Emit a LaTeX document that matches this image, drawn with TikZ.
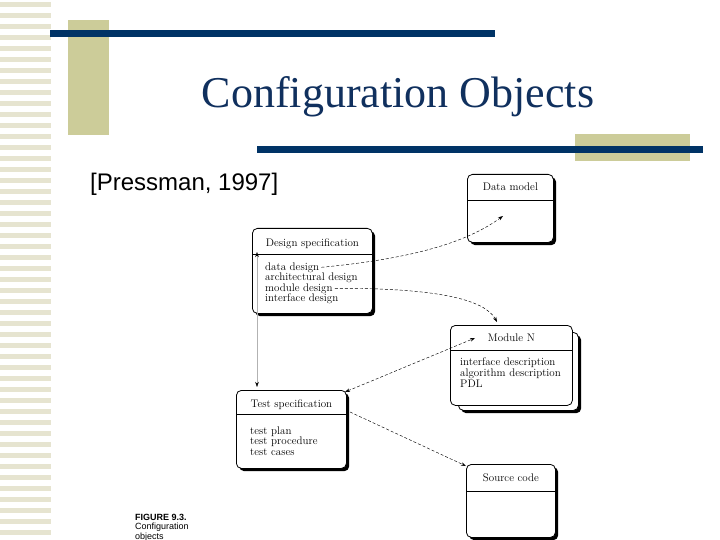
\documentclass[tikz,border=0pt]{standalone}
\usepackage{fontspec}
\newfontfamily\titlefont{Liberation Serif}
\newfontfamily\sansfont{Liberation Sans}
\usetikzlibrary{shadows,arrows.meta,calc}
\definecolor{navy}{RGB}{0,51,102}
\definecolor{titleblue}{RGB}{16,48,94}
\definecolor{khaki}{RGB}{204,204,153}
\definecolor{stripe}{RGB}{230,228,208}

\begin{document}
\begin{tikzpicture}[x=1pt, y=1pt,
    every node/.style={inner sep=2pt},
    >={Stealth[length=5pt,width=3.5pt]},
    objbox/.style={draw, line width=0.8pt, rounded corners=5pt, fill=white, anchor=north west,
        drop shadow={shadow xshift=2.8pt, shadow yshift=-2.8pt, fill=black, opacity=1}},
    plainbox/.style={draw, line width=0.8pt, rounded corners=5pt, fill=white, anchor=north west},
    divider/.style={line width=0.6pt},
    boxtitle/.style={anchor=base, font=\fontsize{11}{11}\selectfont},
    item/.style={anchor=base west, font=\fontsize{11}{11}\selectfont},
    link/.style={densely dashed, line width=0.45pt},
    guide/.style={gray!60, line width=0.4pt},
    ]
    \useasboundingbox (0,0) rectangle (720,-540);
    \fill[white] (0,0) rectangle (720,-540);
    \foreach \y in {2,13,...,535}
        \fill[stripe] (0,-\y) rectangle (51,-\y-5);
    \fill[khaki] (68,-20) rectangle (109,-135);
    \fill[khaki] (575,-134) rectangle (690,-161);
    \fill[navy] (50,-30) rectangle (495,-37);
    \fill[navy] (257,-146) rectangle (703,-153);
    \node (title) [anchor=base, text=titleblue, font=\titlefont\fontsize{44}{44}\selectfont] at (398,-108) {Configuration Objects};
    \node (source) [anchor=base west, font=\sansfont\fontsize{24}{24}\selectfont] at (88,-191) {[Pressman, 1997]};

    \node (dm) [objbox, minimum width=86pt, minimum height=68pt] at (467,-174) {};
    \draw [divider] ($(dm.north west)+(0,-26)$) -- ($(dm.north east)+(0,-26)$);
    \node (dmtitle) [boxtitle] at ($(dm.north)+(0,-17)$) {Data model};

    \node (ds) [objbox, minimum width=120pt, minimum height=85pt] at (252,-228) {};
    \draw [divider] ($(ds.north west)+(0,-26)$) -- ($(ds.north east)+(0,-26)$);
    \node (dstitle) [boxtitle] at ($(ds.north)+(0,-18)$) {Design specification};
    \node (ddesign) [item] at (263,-270) {data design};
    \node (adesign) [item] at (263,-280.5) {architectural design};
    \node (mdesign) [item] at (263,-291) {module design};
    \node (idesign) [item] at (263,-301.5) {interface design};

    \node (mnback) [objbox, minimum width=120pt, minimum height=78pt] at (458,-332) {};
    \node (mn) [plainbox, minimum width=122pt, minimum height=80pt] at (450,-325) {};
    \draw [divider] ($(mn.north west)+(0,-25)$) -- ($(mn.north east)+(0,-25)$);
    \node (mntitle) [boxtitle] at ($(mn.north)+(0,-16)$) {Module N};
    \node (idesc) [item] at (458,-365) {interface description};
    \node (adesc) [item] at (458,-376) {algorithm description};
    \node (pdl) [item] at (458,-387) {PDL};

    \node (ts) [objbox, minimum width=110pt, minimum height=78pt] at (236,-390) {};
    \draw [divider] ($(ts.north west)+(0,-24)$) -- ($(ts.north east)+(0,-24)$);
    \node (tstitle) [boxtitle] at ($(ts.north)+(0,-17)$) {Test specification};
    \node (tplan) [item] at (248,-434) {test plan};
    \node (tproc) [item] at (248,-444.5) {test procedure};
    \node (tcases) [item] at (248,-455) {test cases};

    \node (sc) [objbox, minimum width=89pt, minimum height=73pt] at (466,-464) {};
    \draw [divider] ($(sc.north west)+(0,-27)$) -- ($(sc.north east)+(0,-27)$);
    \node (sctitle) [boxtitle] at ($(sc.north)+(0,-17)$) {Source code};

    \node (fig) [anchor=base west, font=\sansfont\bfseries\fontsize{9}{9}\selectfont] at (133,-520) {FIGURE 9.3.};
    \node (figtext) [anchor=base west, font=\sansfont\fontsize{9}{9}\selectfont] at (133,-529.5) {Configuration};
    \node (figtext2) [anchor=base west, font=\sansfont\fontsize{9}{9}\selectfont] at (133,-539) {objects};

    \coordinate (dmtip) at (503,-216);
    \coordinate (mntop) at (497,-322);
    \coordinate (tscorner) at (345,-392);
    \coordinate (mnleft) at (475,-338);
    \coordinate (tsright) at (350,-412);
    \coordinate (sctip) at (466,-466);
    \coordinate (dsup) at (257,-252);
    \coordinate (tsup) at (257,-387);

    \draw [link, ->] (ddesign.east) .. controls (420,-258) and (470,-240) .. (dmtip);
    \draw [link, ->] (mdesign.east) .. controls (440,-288) and (485,-300) .. (mntop);
    \draw [link, <->] (tscorner) -- (mnleft);
    \draw [link, ->] (tsright) -- (sctip);
    \draw [guide, {Stealth[black,length=5pt,width=3.5pt]}-{Stealth[black,length=5pt,width=3.5pt]}] (dsup) -- (tsup);
\end{tikzpicture}
\end{document}
